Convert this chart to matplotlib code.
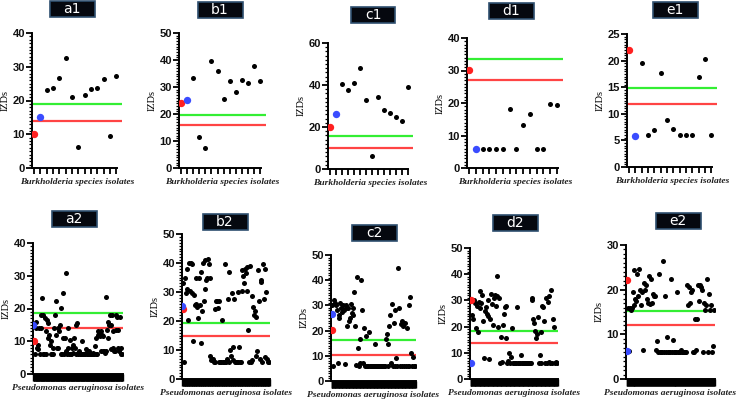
import numpy as np
import matplotlib.pyplot as plt
from matplotlib.patches import Rectangle

# ---- data ----
# top row: Burkholderia species isolates (red = ref 1, blue = ref 2, then isolates)
a1_ref = [10.0, 15.0]
a1_vals = [23.1, 23.7, 26.7, 32.7, 20.9, 6.2, 21.7, 23.3, 23.7, 26.3, 9.4, 27.3]
a1_cut = [18.9, 13.9]

b1_ref = [24.1, 25.1]
b1_vals = [33.2, 11.5, 7.4, 39.5, 35.9, 25.7, 32.2, 28.1, 32.6, 31.6, 37.7, 32.2]
b1_cut = [19.75, 15.9]

c1_ref = [20.2, 26.2]
c1_vals = [40.3, 37.6, 40.9, 47.9, 33.0, 6.3, 34.3, 28.0, 26.9, 24.6, 22.7, 39.2]
c1_cut = [15.8, 10.1]

d1_ref = [30.1, 6.0]
d1_vals = [6, 6, 6, 6, 18.1, 6, 13.3, 16.6, 6, 6, 19.7, 19.3]
d1_cut = [33.5, 27.2]

e1_ref = [22.0, 5.9]
e1_vals = [19.6, 6, 6.9, 17.6, 8.9, 7.1, 6, 6, 6, 16.9, 20.3, 6]
e1_cut = [14.8, 11.8]

# bottom row: Pseudomonas aeruginosa isolates
a2_ref = [10.0, 15.0]
a2_vals = [10.5, 6, 14, 16, 8, 9, 7.5, 14, 6, 14, 18, 23.3, 6, 18, 6, 17, 13, 6,
           16.5, 15.5, 11, 12, 9, 10, 6, 6, 8, 6, 14, 18, 22.3, 12, 8, 14, 8, 13,
           15, 20.3, 6, 6, 11, 24.7, 6, 11, 30.7, 7, 6, 14, 8, 6, 10.5, 6, 6, 8, 9,
           6.5, 11, 8, 15, 6, 15.5, 6.5, 6, 7, 6, 6, 6, 10, 6, 6, 6, 6, 6.5, 7.5, 6,
           6, 6, 7, 6, 6, 6, 6, 6.5, 6, 6, 8.5, 6, 11, 6, 12, 13, 12.5, 11.5, 7, 13,
           12, 7, 11.5, 7, 6.5, 23.5, 7, 13.5, 11, 16, 15, 18, 15, 7.5, 18, 8, 13,
           7, 7, 18, 13.5, 17.5, 8, 13.5, 7, 17.5, 8, 6, 6]
a2_cut = [18.6, 14.1]

b2_ref = [24.0, 25.1]
b2_vals = [33, 6, 35, 29.5, 38, 31, 20.5, 40, 30.5, 40, 29.5, 39.5, 13, 29, 25.5,
           35, 26, 25, 21, 35, 25.5, 12.5, 37, 23.5, 40, 27, 31, 41, 34, 35, 41.5,
           39.5, 35, 8, 6.5, 7, 7, 6, 24, 6, 27, 27, 24.5, 6, 27, 6, 6, 20.5, 6, 6,
           6, 39.5, 6, 7, 27.5, 6, 37, 10, 8, 29.5, 6.5, 11, 27.5, 6, 6, 6, 6, 30,
           11, 6, 6, 37.5, 30.5, 35.5, 33, 38, 36.5, 38.5, 30.5, 17, 6, 39, 6, 6.5,
           28.5, 25, 22, 23.5, 21.5, 8, 9.5, 37.5, 27, 7, 34, 33.5, 6, 39.5, 27.5,
           38, 7.5, 30, 7, 6, 6]
b2_cut = [19.3, 15.0]

c2_ref = [20.2, 26.4]
c2_vals = [30, 6, 32, 31, 30, 28, 7, 25, 26, 31, 29, 27.5, 30, 28, 6.8, 30, 29, 22,
           29, 24, 25, 30.5, 27, 29, 26, 35.5, 22, 6.5, 41.3, 13, 6, 16.5, 7, 40,
           28, 7, 21, 6, 18, 6, 6, 6, 19.5, 6, 6, 6, 6, 6, 6, 14.5, 6, 6, 6, 6, 6,
           6, 6, 6, 6, 6, 6, 16.5, 18.5, 14.5, 6, 22, 26, 7, 30.5, 6, 23, 6, 28, 9,
           6, 45, 29, 6, 22.5, 6, 24, 22, 6, 23, 6, 21, 6, 30, 6, 33.5, 11, 6, 9.5,
           6, 6]
c2_cut = [16.2, 10.2]

d2_ref = [30.3, 6.1]
d2_vals = [6, 24.5, 23, 30, 29, 19.5, 28, 18, 29.5, 27, 33.5, 29, 32, 22, 8.2, 26,
           27.5, 25, 30, 24, 7.5, 23, 32.5, 28.5, 20.5, 31, 32, 28, 39.5, 31.5, 20,
           31, 6, 16, 6.5, 20.5, 25, 27.5, 28, 15.5, 6, 7, 10, 6, 8.5, 19.5, 6, 6,
           6, 6, 6, 27.5, 6, 6, 6, 9, 6, 6, 6, 6, 6, 6, 6, 6, 6, 6, 6, 30, 31, 23,
           21.5, 18.5, 15.5, 17, 23.5, 6, 9, 18, 6, 28, 27.5, 22, 6, 31, 6, 29.5,
           6.5, 31.5, 6, 34, 6, 23, 20, 6, 6.5, 6]
d2_cut = [18.2, 13.7]

e2_ref = [22.2, 6.3]
e2_vals = [16, 6.2, 16, 15.5, 16, 19.5, 24.3, 16.5, 18, 17.5, 23.5, 18.5, 24.7, 20,
           16.5, 19.5, 6.6, 21.5, 20, 21, 18, 17, 23, 16.8, 22.5, 17, 19, 18.5,
           18.5, 6.5, 8.5, 6, 23.5, 6, 6, 6, 26.5, 6, 18.5, 6, 9.3, 6, 6, 6, 22.5,
           6, 8.7, 6, 6, 6, 19.5, 6, 6, 6, 6.5, 6, 6, 6, 6, 6, 21, 16.5, 20.5, 17,
           19.5, 20, 6, 6, 13.5, 6.5, 13.5, 21, 17.5, 21, 20.5, 20, 6, 17, 15.5,
           16.5, 22.5, 6, 19, 15.5, 16.5, 6, 7.3, 15.5]
e2_cut = [15.3, 12.1]

W, H = 737, 400
fig = plt.figure(figsize=(7.37, 4.0), dpi=100)

GREEN = '#33ee33'
RED = '#ff4444'


def title_box(label, cx, cy):
    w, h = 45, 16
    fig.add_artist(Rectangle(((cx - w / 2) / W, (H - cy - h / 2) / H), w / W, h / H,
                             transform=fig.transFigure, facecolor='#05080f',
                             edgecolor='#2f4f6f', linewidth=1.2))
    fig.text(cx / W, (H - cy) / H, label, color='white', fontsize=10,
             family='DejaVu Sans', ha='center', va='center')


def panel(box, ref, vals, cut, ymax, major, minor, top, label, tpos):
    x0, x1, ytop, y0 = box
    ax = fig.add_axes([x0 / W, (H - y0) / H, (x1 - x0) / W, (y0 - ytop) / H])
    n = len(vals)
    if top:
        xs = np.arange(2, n + 2)
        ax.scatter([0], [ref[0]], s=28, color='#ff2020', zorder=4, linewidths=0)
        ax.scatter([1], [ref[1]], s=28, color='#3a4cff', zorder=4, linewidths=0)
        ax.set_xlim(-0.3, n + 1.9)
        ax.set_xticks(np.arange(0, n + 2))
        ax.spines['bottom'].set_bounds(-0.3, n + 1.1)
        ax.tick_params(axis='x', length=4, width=1.3, labelbottom=False)
        xl = 'Burkholderia species isolates'
        lp = 3
    else:
        xs = np.arange(1, n + 1)
        ax.scatter([0.4], [ref[0]], s=28, color='#ff2020', zorder=4, linewidths=0)
        ax.scatter([0], [ref[1]], s=28, color='#3a4cff', zorder=4, linewidths=0)
        ax.set_xlim(-0.6, n + 1.5)
        ax.set_xticks(np.arange(0, n + 1.5, 0.5))
        ax.tick_params(axis='x', length=5, width=1.0, labelbottom=False)
        xl = 'Pseudomonas aeruginosa isolates'
        lp = 2
    ax.scatter(xs, vals, s=13, color='black', zorder=3, linewidths=0)
    ax.axhline(cut[0], color=GREEN, lw=1.6, zorder=2)
    ax.axhline(cut[1], color=RED, lw=1.6, zorder=2)
    ax.set_ylim(0, ymax)
    ax.set_yticks(np.arange(0, ymax + 0.01, major))
    ax.set_yticks(np.arange(0, ymax + 0.01, minor), minor=True)
    ax.tick_params(axis='y', which='major', length=4, width=1.3, pad=1,
                   labelsize=8, labelcolor='#111111')
    ax.tick_params(axis='y', which='minor', length=2.2, width=0.9)
    for t in ax.get_yticklabels():
        t.set_family('Liberation Sans')
        t.set_weight('bold')
    for s in ['top', 'right']:
        ax.spines[s].set_visible(False)
    for s in ['left', 'bottom']:
        ax.spines[s].set_linewidth(1.4)
    ax.set_ylabel('IZDs', family='Liberation Serif', fontsize=7.5, labelpad=2)
    ax.set_xlabel(xl, family='Liberation Serif', style='italic', weight='bold',
                  fontsize=6.8, color='#222222', labelpad=lp)
    title_box(label, *tpos)
    return ax


panel((32, 122, 33, 168), a1_ref, a1_vals, a1_cut, 40, 10, 1, True, 'a1', (72, 9))
panel((179, 266, 33, 168), b1_ref, b1_vals, b1_cut, 50, 10, 1, True, 'b1', (220, 10))
panel((328, 413, 43, 169), c1_ref, c1_vals, c1_cut, 60, 20, 2, True, 'c1', (373, 15))
panel((467, 563, 38, 168), d1_ref, d1_vals, d1_cut, 40, 10, 1, True, 'd1', (511, 11))
panel((627, 717, 34, 167), e1_ref, e1_vals, e1_cut, 25, 5, 0.5, True, 'e1', (675, 10))

panel((33, 123, 243, 374), a2_ref, a2_vals, a2_cut, 40, 10, 1, False, 'a2', (74, 219))
panel((182, 270, 234, 379), b2_ref, b2_vals, b2_cut, 50, 10, 1, False, 'b2', (225, 222))
panel((331, 416, 255, 381), c2_ref, c2_vals, c2_cut, 50, 10, 1, False, 'c2', (374, 233))
panel((470, 558, 248, 379), d2_ref, d2_vals, d2_cut, 50, 10, 1, False, 'd2', (515, 223))
panel((626, 715, 245, 379), e2_ref, e2_vals, e2_cut, 30, 10, 1, False, 'e2', (678, 221))

fig.savefig('out.png', dpi=100)
